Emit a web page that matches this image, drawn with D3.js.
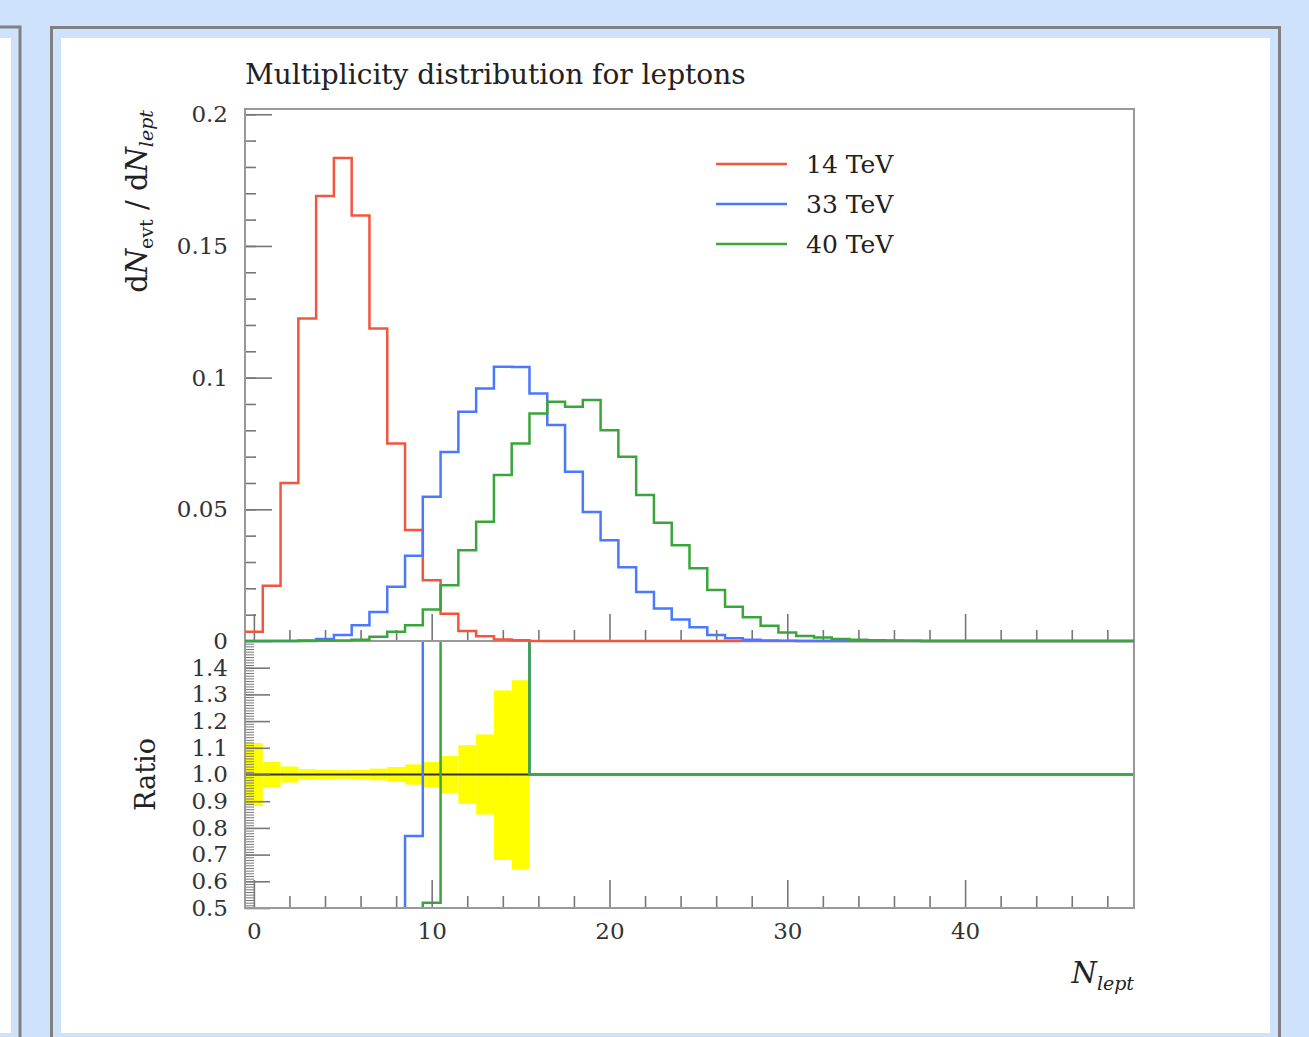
<!DOCTYPE html>
<html>
<head>
<meta charset="utf-8">
<script src="https://cdn.jsdelivr.net/npm/d3@7"></script>
<style>
  body { margin: 0; background: #cfe2fb; }
  svg text { font-family: "DejaVu Serif", serif; fill: #222; }
  .tick text { font-family: "DejaVu Serif", serif; font-size: 23px; fill: #333; }
</style>
</head>
<body>
<div id="chart"></div>
<script>

// bin centres N = 0..49, each bin is 1 wide
var nBins = d3.range(0, 50);

// dN_evt/dN_lept
var tev14 = [0.0035, 0.021, 0.060, 0.1225, 0.169, 0.1834, 0.1616, 0.1187, 0.075, 0.0421,
             0.0231, 0.0103, 0.0038, 0.0018, 0.0006, 0.0003, 0, 0, 0, 0,
             0, 0, 0, 0, 0, 0, 0, 0, 0, 0,
             0, 0, 0, 0, 0, 0, 0, 0, 0, 0,
             0, 0, 0, 0, 0, 0, 0, 0, 0, 0];
var tev33 = [0, 0, 0, 0.0002, 0.0008, 0.0023, 0.006, 0.011, 0.0206, 0.0324,
             0.0548, 0.0718, 0.087, 0.0959, 0.1041, 0.1040, 0.094, 0.082, 0.0643, 0.049,
             0.0383, 0.028, 0.0186, 0.0123, 0.0082, 0.0052, 0.0023, 0.001, 0.0005, 0.0002,
             0.0001, 0, 0, 0, 0, 0, 0, 0, 0, 0,
             0, 0, 0, 0, 0, 0, 0, 0, 0, 0];
var tev40 = [0, 0, 0, 0, 0.0001, 0.0002, 0.0005, 0.0016, 0.0035, 0.006,
             0.012, 0.0212, 0.0345, 0.0453, 0.063, 0.075, 0.0864, 0.0908, 0.0889, 0.0915,
             0.080, 0.070, 0.0554, 0.0449, 0.0364, 0.0276, 0.0194, 0.013, 0.009, 0.0058,
             0.0032, 0.0019, 0.0013, 0.0008, 0.0005, 0.0003, 0.0002, 0.0001, 0, 0,
             0, 0, 0, 0, 0, 0, 0, 0, 0, 0];

// relative stat. error of the 14 TeV reference (yellow band), bins 0..15
var bandUp   = [0.118, 0.048, 0.03, 0.02, 0.017, 0.016, 0.017, 0.022, 0.028, 0.038,
                0.047, 0.069, 0.11, 0.15, 0.315, 0.353];
var bandDown = [0.118, 0.048, 0.03, 0.02, 0.017, 0.016, 0.017, 0.022, 0.028, 0.038,
                0.047, 0.069, 0.11, 0.15, 0.32, 0.356];

var seriesNames  = ["14 TeV", "33 TeV", "40 TeV"];
var seriesColors = ["#f4553f", "#4a78ff", "#3aa53a"];

var xMajor = [0, 10, 20, 30, 40];
var xMinor = [2, 4, 6, 8, 12, 14, 16, 18, 22, 24, 26, 28, 32, 34, 36, 38, 42, 44, 46, 48];
var yMajor = [0, 0.05, 0.1, 0.15, 0.2];
var yMajorLabels = ["0", "0.05", "0.1", "0.15", "0.2"];
var yMinor = d3.range(1, 21).map(function(d) { return d / 100; });
var rMajor = [0.5, 0.6, 0.7, 0.8, 0.9, 1.0, 1.1, 1.2, 1.3, 1.4];
var rMajorLabels = ["0.5", "0.6", "0.7", "0.8", "0.9", "1.0", "1.1", "1.2", "1.3", "1.4"];
var rMinor = d3.range(50, 151).map(function(d) { return d / 100; });

var W = 1309, H = 1037;
var svg = d3.select("#chart").append("svg")
    .attr("width", W)
    .attr("height", H);

// page frames
svg.append("rect").attr("x", -10).attr("y", 27).attr("width", 30).attr("height", 1100)
  .attr("fill", "#cfe2fb").attr("stroke", "#808080").attr("stroke-width", 3);
svg.append("rect").attr("x", -10).attr("y", 38).attr("width", 21).attr("height", 995)
  .attr("fill", "#fff");
svg.append("rect").attr("x", 51.5).attr("y", 27.5).attr("width", 1228).attr("height", 1100)
  .attr("fill", "#cfe2fb").attr("stroke", "#808080").attr("stroke-width", 3);
svg.append("rect").attr("x", 61).attr("y", 38).attr("width", 1209).attr("height", 995)
  .attr("fill", "#fff");

var pLeft = 245, pRight = 1134, pTop = 109, pMid = 641, pBottom = 908;

var x = d3.scaleLinear().domain([-0.5, 49.5]).range([pLeft, pRight]);
var y = d3.scaleLinear().domain([0, 0.202]).range([pMid, pTop]);
var yr = d3.scaleLinear().domain([0.5, 1.5]).range([pBottom, pMid]);

// title
svg.append("text")
  .attr("x", pLeft).attr("y", 84)
  .style("font-size", "28px")
  .text("Multiplicity distribution for leptons");

// step path helper
function stepPoints(vals) {
  var pts = vals.map(function(v, i) { return [i - 0.5, v]; });
  pts.push([vals.length - 0.5, vals[vals.length - 1]]);
  return pts;
}

var defs = svg.append("defs");
defs.append("clipPath").attr("id", "clipRatio")
  .append("rect").attr("x", pLeft).attr("y", pMid).attr("width", pRight - pLeft).attr("height", pBottom - pMid);

// ---- ratio panel ----
var ratioG = svg.append("g").attr("clip-path", "url(#clipRatio)");

// yellow band of the reference
ratioG.selectAll("rect.band")
  .data(bandUp)
  .enter()
  .append("rect")
    .attr("class", "band")
    .attr("x", function(d, i) { return x(i - 0.5); })
    .attr("width", function(d, i) { return x(i + 0.5) - x(i - 0.5); })
    .attr("y", function(d) { return yr(1 + d); })
    .attr("height", function(d, i) { return yr(1 - bandDown[i]) - yr(1 + d); })
    .attr("fill", "#ffff00");

ratioG.append("line")
  .attr("x1", pLeft).attr("x2", x(15.5))
  .attr("y1", yr(1)).attr("y2", yr(1))
  .attr("stroke", "#333").attr("stroke-width", 1.8);

var series = [tev14, tev33, tev40];

var lineMain = d3.line()
  .x(function(d) { return x(d[0]); })
  .y(function(d) { return y(d[1]); })
  .curve(d3.curveStepAfter);
var lineRatio = d3.line()
  .x(function(d) { return x(d[0]); })
  .y(function(d) { return yr(Math.min(Math.max(d[1], 0.3), 1.7)); })
  .curve(d3.curveStepAfter);

[1, 2].forEach(function(k) {
  var ratio = series[k].map(function(v, i) {
    return tev14[i] > 0 ? v / tev14[i] : 1;
  });
  ratioG.append("path")
    .attr("d", lineRatio(stepPoints(ratio)))
    .attr("fill", "none")
    .attr("stroke", seriesColors[k])
    .attr("stroke-width", 2.5);
});

// ---- axes ----
function styleAxis(g) {
  g.select(".domain").remove();
  g.selectAll(".tick line").attr("stroke", "#777").attr("stroke-width", 1.6);
}

// main y
svg.append("g").attr("transform", "translate(" + pLeft + ",0)")
  .call(d3.axisLeft(y).tickValues(yMinor).tickSize(-11).tickFormat(""))
  .call(styleAxis);
svg.append("g").attr("transform", "translate(" + pLeft + ",0)")
  .call(d3.axisLeft(y).tickValues(yMajor).tickSize(-27).tickPadding(17)
        .tickFormat(function(d, i) { return yMajorLabels[i]; }))
  .call(styleAxis);

// main x (ticks only)
svg.append("g").attr("transform", "translate(0," + pMid + ")")
  .call(d3.axisBottom(x).tickValues(xMinor).tickSize(-11).tickFormat(""))
  .call(styleAxis);
svg.append("g").attr("transform", "translate(0," + pMid + ")")
  .call(d3.axisBottom(x).tickValues(xMajor).tickSize(-27).tickFormat(""))
  .call(styleAxis);

// ratio y
svg.append("g").attr("transform", "translate(" + pLeft + ",0)")
  .call(d3.axisLeft(yr).tickValues(rMinor).tickSize(-9).tickFormat(""))
  .call(styleAxis)
  .selectAll(".tick line").attr("stroke-width", 1);
svg.append("g").attr("transform", "translate(" + pLeft + ",0)")
  .call(d3.axisLeft(yr).tickValues(rMajor).tickSize(-25).tickPadding(17)
        .tickFormat(function(d, i) { return rMajorLabels[i]; }))
  .call(styleAxis);

// ratio x
svg.append("g").attr("transform", "translate(0," + pBottom + ")")
  .call(d3.axisBottom(x).tickValues(xMinor).tickSize(-12).tickFormat(""))
  .call(styleAxis);
svg.append("g").attr("transform", "translate(0," + pBottom + ")")
  .call(d3.axisBottom(x).tickValues(xMajor).tickSize(-28).tickPadding(15))
  .call(styleAxis);

// frames
svg.append("rect")
  .attr("x", pLeft).attr("y", pTop).attr("width", pRight - pLeft).attr("height", pMid - pTop)
  .attr("fill", "none").attr("stroke", "#999").attr("stroke-width", 2);
svg.append("rect")
  .attr("x", pLeft).attr("y", pMid).attr("width", pRight - pLeft).attr("height", pBottom - pMid)
  .attr("fill", "none").attr("stroke", "#999").attr("stroke-width", 2);

// ---- main panel histograms ----
series.forEach(function(vals, k) {
  svg.append("path")
    .attr("d", lineMain(stepPoints(vals)))
    .attr("fill", "none")
    .attr("stroke", seriesColors[k])
    .attr("stroke-width", 2.5);
});

// ---- labels ----
var yLab = svg.append("text")
  .attr("transform", "translate(147," + (pTop + 1) + ") rotate(-90)")
  .attr("text-anchor", "end")
  .style("font-size", "29px");
yLab.append("tspan").text("d");
yLab.append("tspan").style("font-style", "italic").text("N");
yLab.append("tspan").attr("dy", 6).style("font-size", "19px").text("evt");
yLab.append("tspan").attr("dy", -6).text(" / d");
yLab.append("tspan").style("font-style", "italic").text("N");
yLab.append("tspan").attr("dy", 6).style("font-size", "19px").style("font-style", "italic").text("lept");

svg.append("text")
  .attr("transform", "translate(155," + yr(1) + ") rotate(-90)")
  .attr("text-anchor", "middle")
  .style("font-size", "27px")
  .text("Ratio");

var xLab = svg.append("text")
  .attr("x", pRight).attr("y", 983)
  .attr("text-anchor", "end")
  .style("font-size", "29px")
  .style("font-style", "italic");
xLab.append("tspan").text("N");
xLab.append("tspan").attr("dy", 7).style("font-size", "19px").text("lept");

// ---- legend ----
var legend = svg.append("g");
seriesNames.forEach(function(name, k) {
  var ly = 164 + k * 40;
  legend.append("line")
    .attr("x1", 716).attr("x2", 787).attr("y1", ly).attr("y2", ly)
    .attr("stroke", seriesColors[k]).attr("stroke-width", 2.5);
  legend.append("text")
    .attr("x", 806).attr("y", ly + 9)
    .style("font-size", "25px")
    .text(name);
});

</script>
</body>
</html>
